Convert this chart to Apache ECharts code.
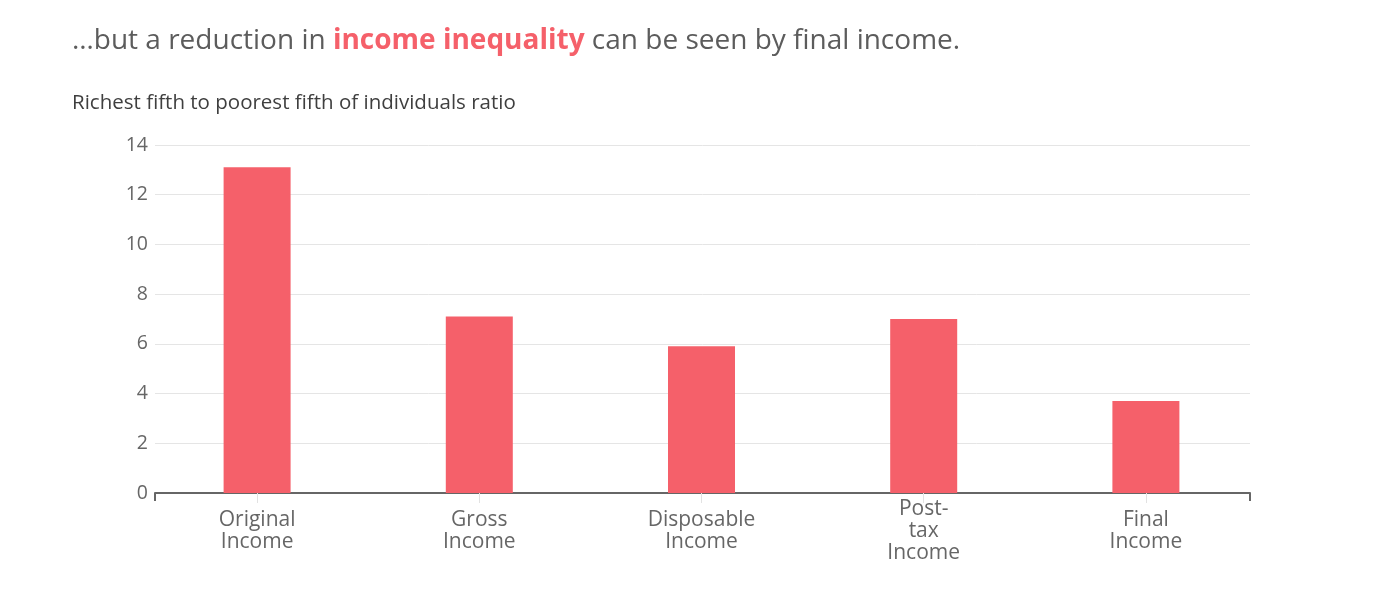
<!DOCTYPE html>
<html>
<head>
<meta charset="utf-8">
<script src="https://cdn.jsdelivr.net/npm/echarts@6/dist/echarts.min.js"></script>
<style>
html,body{margin:0;padding:0;background:#fff;}
#chart{width:1380px;height:598px;}
</style>
</head>
<body>
<div id="chart"></div>
<script>
const categories = ["Original\nIncome", "Gross\nIncome", "Disposable\nIncome", "Post-\ntax\nIncome", "Final\nIncome"];
const ratios = [13.1, 7.1, 5.9, 7.0, 3.7];
const yTicks = { min: 0, max: 14, interval: 2 };
const titleParts = ["…but a reduction in ", "income inequality", " can be seen by final income."];
const subtitle = "Richest fifth to poorest fifth of individuals ratio";

const FONT = '"Open Sans", sans-serif';
const chart = echarts.init(document.getElementById('chart'));
chart.setOption({
  backgroundColor: '#fff',
  animation: false,
  graphic: [
    {
      type: 'text', left: 72, top: 27,
      style: {
        text: '{a|' + titleParts[0] + '}{b|' + titleParts[1] + '}{a|' + titleParts[2] + '}',
        rich: {
          a: { fontFamily: FONT, fontSize: 28, fill: '#5c5c5c' },
          b: { fontFamily: FONT, fontSize: 28, fill: '#f5606a', fontWeight: 'bold' }
        }
      }
    },
    {
      type: 'text', left: 72, top: 93,
      style: { text: subtitle, fontFamily: FONT, fontSize: 20.5, fill: '#3f3f3f' }
    }
  ],
  grid: [
    { left: 146, right: 123, top: 145, bottom: 105 },
    { left: 155, right: 130, top: 145, bottom: 105 }
  ],
  xAxis: [
    {
      type: 'category', data: categories, gridIndex: 0,
      axisLine: { show: false },
      axisTick: { show: true, alignWithLabel: true, length: 10, lineStyle: { color: '#e2e2e2', width: 1 } },
      axisLabel: { fontFamily: FONT, fontSize: 21, color: '#666', lineHeight: 22, margin: 38, verticalAlign: 'middle' },
      splitLine: { show: false }
    },
    {
      type: 'value', gridIndex: 1, position: 'bottom', min: 0, max: 1, interval: 1,
      axisLine: { show: true, onZero: false, lineStyle: { color: '#666', width: 2 } },
      axisTick: { show: true, length: 8, lineStyle: { color: '#666', width: 2 } },
      axisLabel: { show: false },
      splitLine: { show: false }
    }
  ],
  yAxis: [
    {
      type: 'value', gridIndex: 0, min: yTicks.min, max: yTicks.max, interval: yTicks.interval,
      show: false, splitLine: { show: false }
    },
    {
      type: 'value', gridIndex: 1, min: yTicks.min, max: yTicks.max, interval: yTicks.interval,
      axisLine: { show: false }, axisTick: { show: false },
      axisLabel: { fontFamily: FONT, fontSize: 19.5, color: '#666', margin: 7 },
      splitLine: { lineStyle: { color: '#e5e5e5', width: 1 } }
    }
  ],
  series: [{
    type: 'bar', data: ratios, xAxisIndex: 0, yAxisIndex: 0, barWidth: 67, z: 3,
    itemStyle: { color: '#f5606a' }
  }]
});
</script>
</body>
</html>
